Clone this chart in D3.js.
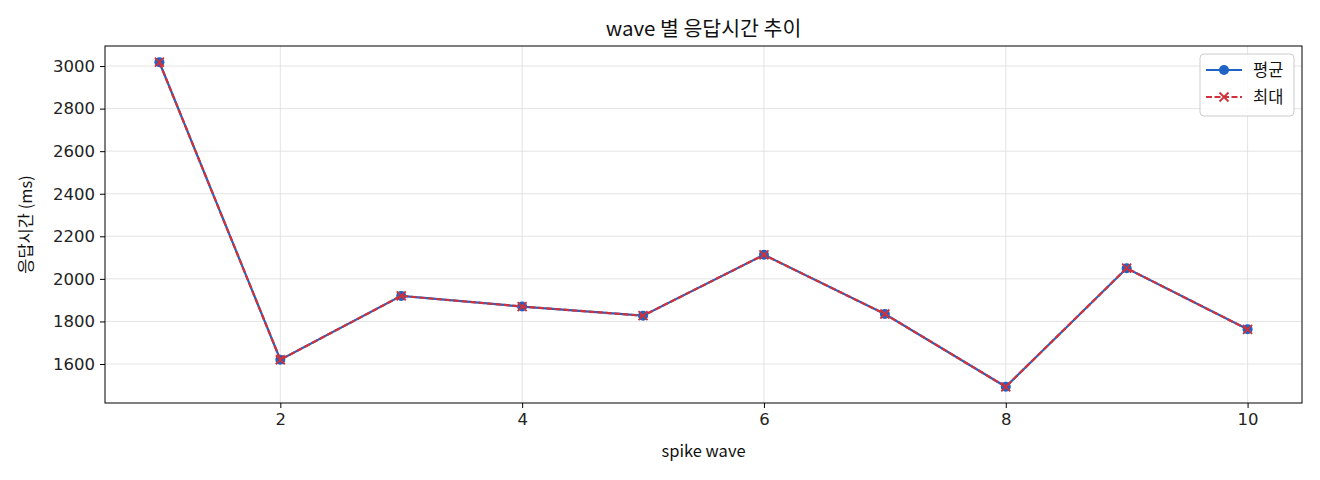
<!DOCTYPE html>
<html>
  <head>
    <meta charset="utf-8" />
    <title>wave 별 응답시간 추이</title>
    <script src="https://d3js.org/d3.v7.min.js"></script>
    <style>
      body { margin: 0; background: #fff; }
      svg { font-family: "Noto Sans CJK KR", "Noto Sans", sans-serif; }
      .grid line { stroke: #ddd; stroke-width: 0.8; }
    </style>
  </head>
  <body>
    <svg width="1320" height="480"></svg>
    <script>
      // data
      const waves = [1, 2, 3, 4, 5, 6, 7, 8, 9, 10];
      const avgMs = [3018, 1620, 1920, 1870, 1827, 2113, 1835, 1493, 2050, 1763];
      const maxMs = [3018, 1620, 1920, 1870, 1827, 2113, 1835, 1493, 2050, 1763];
      const xTicks = [2, 4, 6, 8, 10];
      const yTicks = [1600, 1800, 2000, 2200, 2400, 2600, 2800, 3000];

      const svg = d3.select("svg");
      const m = { left: 105, right: 1302, top: 46, bottom: 403 };

      // matplotlib-ish 5% margins
      const xPad = (d3.max(waves) - d3.min(waves)) * 0.05;
      const allY = avgMs.concat(maxMs);
      const yPad = (d3.max(allY) - d3.min(allY)) * 0.05;

      const x = d3.scaleLinear()
                  .domain([d3.min(waves) - xPad, d3.max(waves) + xPad])
                  .range([m.left, m.right]);
      const y = d3.scaleLinear()
                  .domain([d3.min(allY) - yPad, d3.max(allY) + yPad])
                  .range([m.bottom, m.top]);

      // grid
      svg.append("g").attr("class", "grid")
         .selectAll("line.v").data(xTicks).enter().append("line")
         .attr("x1", d => x(d)).attr("x2", d => x(d))
         .attr("y1", m.top).attr("y2", m.bottom);
      svg.append("g").attr("class", "grid")
         .selectAll("line.h").data(yTicks).enter().append("line")
         .attr("y1", d => y(d)).attr("y2", d => y(d))
         .attr("x1", m.left).attr("x2", m.right);

      // axes
      const xAxis = svg.append("g")
         .attr("transform", "translate(0," + m.bottom + ")")
         .call(d3.axisBottom(x).tickValues(xTicks).tickSize(5).tickPadding(5));
      const yAxis = svg.append("g")
         .attr("transform", "translate(" + m.left + ",0)")
         .call(d3.axisLeft(y).tickValues(yTicks).tickSize(5).tickPadding(5).tickFormat(d3.format("d")));
      [xAxis, yAxis].forEach(a => {
        a.attr("font-family", "'DejaVu Sans', sans-serif").attr("font-size", 16.5);
        a.select(".domain").remove();
        a.selectAll(".tick line").attr("stroke", "#000").attr("stroke-width", 1);
        a.selectAll(".tick text").attr("fill", "#222");
      });

      // frame
      svg.append("rect")
         .attr("x", m.left).attr("y", m.top)
         .attr("width", m.right - m.left).attr("height", m.bottom - m.top)
         .attr("fill", "none").attr("stroke", "#000").attr("stroke-width", 1);

      const blue = "#1f64c4", red = "#d0313a";
      const line = d3.line().x((d, i) => x(waves[i])).y(d => y(d));

      // 평균 series
      svg.append("path").datum(avgMs)
         .attr("d", line).attr("fill", "none")
         .attr("stroke", blue).attr("stroke-width", 2.2);
      svg.append("g").selectAll("circle").data(avgMs).enter().append("circle")
         .attr("cx", (d, i) => x(waves[i])).attr("cy", d => y(d))
         .attr("r", 5).attr("fill", blue);

      // 최대 series
      svg.append("path").datum(maxMs)
         .attr("d", line).attr("fill", "none")
         .attr("stroke", red).attr("stroke-width", 2.2)
         .attr("stroke-dasharray", "6,2.5");
      const xMark = (cx, cy, s) => "M" + (cx - s) + "," + (cy - s) + "L" + (cx + s) + "," + (cy + s) +
                                   "M" + (cx - s) + "," + (cy + s) + "L" + (cx + s) + "," + (cy - s);
      svg.append("g").selectAll("path").data(maxMs).enter().append("path")
         .attr("d", (d, i) => xMark(x(waves[i]), y(d), 4.5))
         .attr("stroke", red).attr("stroke-width", 1.8).attr("fill", "none");

      // title and labels
      svg.append("text")
         .attr("x", (m.left + m.right) / 2).attr("y", 36)
         .attr("text-anchor", "middle").attr("font-size", 20.5).attr("fill", "#111")
         .text("wave 별 응답시간 추이");
      svg.append("text")
         .attr("x", (m.left + m.right) / 2).attr("y", 457)
         .attr("text-anchor", "middle").attr("font-size", 16.5).attr("fill", "#111")
         .text("spike wave");
      svg.append("text")
         .attr("transform", "translate(32," + (m.top + m.bottom) / 2 + ") rotate(-90)")
         .attr("text-anchor", "middle").attr("font-size", 16.5).attr("fill", "#111")
         .text("응답시간 (ms)");

      // legend
      const legend = svg.append("g").attr("transform", "translate(1200,54)");
      legend.append("rect")
            .attr("width", 94).attr("height", 62).attr("rx", 4)
            .attr("fill", "#fff").attr("fill-opacity", 0.85)
            .attr("stroke", "#ccc").attr("stroke-width", 1);
      const items = [
        { name: "평균", color: blue, dash: null, mark: "o" },
        { name: "최대", color: red, dash: "6,2.5", mark: "x" }
      ];
      items.forEach((d, i) => {
        const row = legend.append("g").attr("transform", "translate(0," + (16 + i * 27) + ")");
        row.append("line").attr("x1", 6).attr("x2", 42).attr("y1", 0).attr("y2", 0)
           .attr("stroke", d.color).attr("stroke-width", 2.2)
           .attr("stroke-dasharray", d.dash);
        if (d.mark === "o") {
          row.append("circle").attr("cx", 24).attr("cy", 0).attr("r", 5).attr("fill", d.color);
        } else {
          row.append("path").attr("d", xMark(24, 0, 4.5))
             .attr("stroke", d.color).attr("stroke-width", 1.8);
        }
        row.append("text").attr("x", 53).attr("y", 6)
           .attr("font-size", 16.5).attr("fill", "#111").text(d.name);
      });
    </script>
  </body>
</html>
